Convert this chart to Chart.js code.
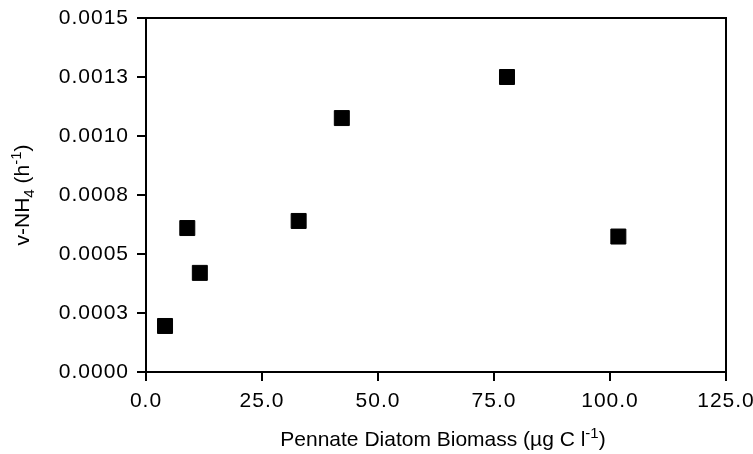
<!DOCTYPE html>
<html>
<head>
<meta charset="utf-8">
<script src="https://cdn.jsdelivr.net/npm/chart.js@4.4.1/dist/chart.umd.min.js"></script>
<style>
  html, body { margin: 0; padding: 0; background: #fff; }
  #wrap { width: 753px; height: 454px; }
</style>
</head>
<body>
<div id="wrap"><canvas id="scatter"></canvas></div>
<script>
// pennate diatom biomass (ug C/l) vs NH4 uptake (h-1)
const biomass = [4.1, 8.9, 11.6, 32.9, 42.2, 77.8, 101.8];
const uptake = [0.000195, 0.000610, 0.000420, 0.000640, 0.001076, 0.001250, 0.000574];
const xTickLabels = ['0.0', '25.0', '50.0', '75.0', '100.0', '125.0'];
const yTickLabels = ['0.0000', '0.0003', '0.0005', '0.0008', '0.0010', '0.0013', '0.0015'];

const FONT = "'Liberation Sans', Arial, Helvetica, sans-serif";

// axis titles with sub/superscripts: [text, 'b' | 'sub' | 'sup']
const xTitle = [['Pennate Diatom Biomass (µg C l', 'b'], ['-1', 'sup'], [')', 'b']];
const yTitle = [['v-NH', 'b'], ['4', 'sub'], [' (h', 'b'], ['-1', 'sup'], [')', 'b']];

function drawRich(ctx, parts, size) {
    const small = Math.round(size * 0.72);
    const fontFor = (k) => (k === 'b' ? size : small) + 'px ' + FONT;
    let total = 0;
    parts.forEach(([t, k]) => { ctx.font = fontFor(k); total += ctx.measureText(t).width; });
    let x = -total / 2;
    const base = size * 0.36;
    parts.forEach(([t, k]) => {
        ctx.font = fontFor(k);
        const dy = k === 'sub' ? size * 0.25 : k === 'sup' ? -size * 0.38 : 0;
        ctx.fillText(t, x, base + dy);
        x += ctx.measureText(t).width;
    });
}

const decor = {
    id: 'decor',
    beforeLayout(chart) { chart.ctx.letterSpacing = '1px'; },
    beforeDraw(chart) { chart.ctx.letterSpacing = '1px'; },
    afterDraw(chart) {
        const { ctx, chartArea: a } = chart;
        ctx.save();
        // frame
        ctx.strokeStyle = '#000';
        ctx.lineWidth = 2;
        ctx.strokeRect(a.left, a.top, a.right - a.left, a.bottom - a.top);
        // titles
        ctx.fillStyle = '#000';
        ctx.letterSpacing = '0px';
        ctx.textAlign = 'left';
        ctx.textBaseline = 'alphabetic';
        ctx.save();
        ctx.translate(443, 438);
        drawRich(ctx, xTitle, 21);
        ctx.restore();
        ctx.save();
        ctx.translate(21, (a.top + a.bottom) / 2);
        ctx.rotate(-Math.PI / 2);
        drawRich(ctx, yTitle, 21);
        ctx.restore();
        ctx.restore();
    }
};

new Chart(document.getElementById('scatter'), {
    type: 'scatter',
    data: {
        datasets: [{
            data: biomass.map((x, i) => ({ x: x, y: uptake[i] })),
            pointStyle: 'rect',
            pointRadius: 10.6,
            pointHoverRadius: 10.6,
            backgroundColor: '#000',
            borderColor: '#000',
            borderWidth: 1
        }]
    },
    options: {
        responsive: true,
        maintainAspectRatio: false,
        animation: false,
        layout: { padding: { top: 18, right: 27, left: 0, bottom: 0 } },
        plugins: { legend: { display: false }, tooltip: { enabled: false } },
        scales: {
            x: {
                type: 'linear',
                min: 0, max: 125,
                afterFit: (s) => { s.height = 82; s.paddingLeft = 0; s.paddingRight = 0; },
                ticks: {
                    stepSize: 25,
                    color: '#000',
                    padding: 8,
                    maxRotation: 0,
                    font: { family: FONT, size: 21 },
                    callback: (v, i) => xTickLabels[i]
                },
                grid: { drawOnChartArea: false, drawTicks: true, tickLength: 9, color: '#000', lineWidth: 2 },
                border: { display: true, color: '#000', width: 2 }
            },
            y: {
                type: 'linear',
                min: 0, max: 0.0015,
                afterFit: (s) => { s.width = 146; s.paddingTop = 0; s.paddingBottom = 0; },
                ticks: {
                    stepSize: 0.00025,
                    color: '#000',
                    padding: 8,
                    font: { family: FONT, size: 21 },
                    callback: (v, i) => yTickLabels[i]
                },
                grid: { drawOnChartArea: false, drawTicks: true, tickLength: 9, color: '#000', lineWidth: 2 },
                border: { display: true, color: '#000', width: 2 }
            }
        }
    },
    plugins: [decor]
});
</script>
</body>
</html>
